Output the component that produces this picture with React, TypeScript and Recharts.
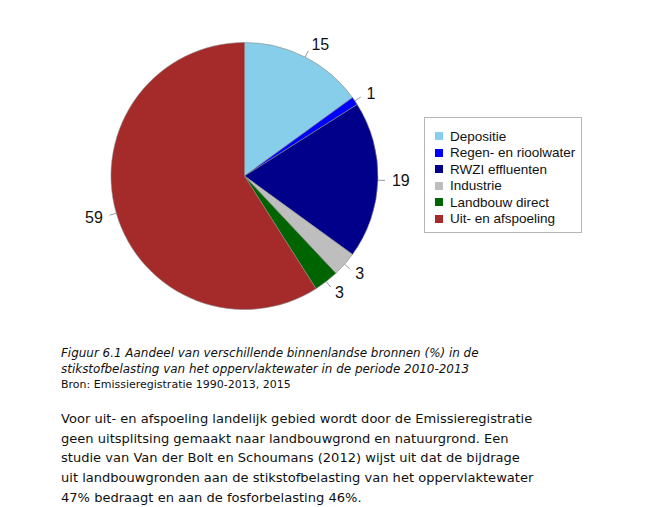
import React from "react";
import { PieChart, Pie, Cell, Legend } from "recharts";

const categories = [
  "Depositie",
  "Regen- en rioolwater",
  "RWZI effluenten",
  "Industrie",
  "Landbouw direct",
  "Uit- en afspoeling",
];
const shares = [15, 1, 19, 3, 3, 59];
const colors = ["#87ceeb", "#0000ff", "#00008b", "#bebebe", "#006400", "#a52a2a"];

const captionLines = [
  "Figuur 6.1 Aandeel van verschillende binnenlandse bronnen (%) in de",
  "stikstofbelasting van het oppervlaktewater in de periode 2010-2013",
];
const sourceLine = "Bron: Emissieregistratie 1990-2013, 2015";
const bodyLines = [
  "Voor uit- en afspoeling landelijk gebied wordt door de Emissieregistratie",
  "geen uitsplitsing gemaakt naar landbouwgrond en natuurgrond. Een",
  "studie van Van der Bolt en Schoumans (2012) wijst uit dat de bijdrage",
  "uit landbouwgronden aan de stikstofbelasting van het oppervlaktewater",
  "47% bedraagt en aan de fosforbelasting 46%.",
];

const pieData = categories.map((name, i) => ({ name, value: shares[i] }));

const RAD = Math.PI / 180;

// short grey leader + number just outside the rim
function renderLabel(props: any) {
  const { cx, cy, midAngle, outerRadius, value } = props;
  const cos = Math.cos(-midAngle * RAD);
  const sin = Math.sin(-midAngle * RAD);
  const x1 = cx + outerRadius * cos;
  const y1 = cy + outerRadius * sin;
  const x2 = cx + (outerRadius + 7) * cos;
  const y2 = cy + (outerRadius + 7) * sin;
  const tx = cx + (outerRadius + 14) * cos;
  const ty = cy + (outerRadius + 14) * sin;
  return (
    <g>
      <line x1={x1} y1={y1} x2={x2} y2={y2} stroke="#9a9a9a" strokeWidth={1} />
      <text
        x={tx}
        y={ty}
        textAnchor={cos >= 0 ? "start" : "end"}
        dominantBaseline="central"
        fill="#111"
        fontSize={16}
        fontFamily="'Liberation Sans', Arial, sans-serif"
      >
        {value}
      </text>
    </g>
  );
}

function LegendBox(props: any) {
  // keep the slice order, not recharts' alphabetical sort
  const payload = [...(props.payload || [])].sort(
    (a: any, b: any) => categories.indexOf(a.value) - categories.indexOf(b.value)
  );
  return (
    <div
      style={{
        border: "1px solid #b5b5b5",
        width: 158,
        height: 116,
        boxSizing: "border-box",
        padding: "10px 0 0 10px",
        fontFamily: "'Liberation Sans', Arial, sans-serif",
        fontSize: 13.5,
        color: "#111",
        background: "#fff",
      }}
    >
      {payload.map((p: any) => {
        const idx = categories.indexOf(p.value);
        return (
          <div key={p.value} style={{ display: "flex", alignItems: "center", height: 16.5, whiteSpace: "nowrap" }}>
            <span
              style={{
                display: "inline-block",
                width: 8,
                height: 8,
                background: colors[idx],
                marginRight: 7,
              }}
            />
            {p.value}
          </div>
        );
      })}
    </div>
  );
}

export default function App() {
  return (
    <div
      style={{
        position: "absolute",
        left: 0,
        top: 0,
        width: 651,
        height: 507,
        background: "#fff",
        fontFamily: "'DejaVu Sans', Verdana, sans-serif",
        color: "#111",
      }}
    >
      <div style={{ position: "absolute", left: 0, top: 0 }}>
        <PieChart width={651} height={330} margin={{ top: 0, right: 0, bottom: 0, left: 0 }}>
          <Pie
            data={pieData}
            dataKey="value"
            nameKey="name"
            cx={244.5}
            cy={176}
            outerRadius={133.5}
            startAngle={90}
            endAngle={-270}
            stroke="#8a8a8a"
            strokeWidth={0.6}
            label={renderLabel}
            labelLine={false}
            isAnimationActive={false}
          >
            {pieData.map((d, i) => (
              <Cell key={d.name} fill={colors[i]} />
            ))}
          </Pie>
          <Legend
            layout="vertical"
            content={<LegendBox />}
            wrapperStyle={{ position: "absolute", left: 424, top: 117, width: 158, height: 116 }}
          />
        </PieChart>
      </div>
      <div
        style={{
          position: "absolute",
          left: 61,
          top: 345,
          fontSize: 11,
          lineHeight: "16px",
          whiteSpace: "nowrap",
        }}
      >
        {captionLines.map((l) => (
          <div key={l} style={{ fontStyle: "italic", fontSize: 11.95 }}>
            {l}
          </div>
        ))}
        <div>{sourceLine}</div>
      </div>
      <div
        style={{
          position: "absolute",
          left: 61,
          top: 409,
          fontSize: 13.05,
          lineHeight: "19.7px",
          whiteSpace: "nowrap",
        }}
      >
        {bodyLines.map((l) => (
          <div key={l}>{l}</div>
        ))}
      </div>
    </div>
  );
}
